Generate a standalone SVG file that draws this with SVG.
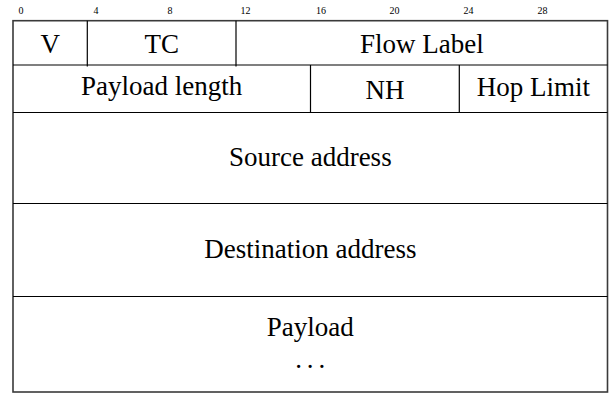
<svg xmlns="http://www.w3.org/2000/svg" width="610" height="394" viewBox="0 0 610 394">
<style>
  .bits { font-family: 'Liberation Serif', 'Times New Roman', serif; font-size: 10px; fill: #000; text-anchor: middle; }
  .lbl { font-family: 'Liberation Serif', 'Times New Roman', serif; font-size: 27px; fill: #000; text-anchor: middle; }
  .dots { letter-spacing: -0.9px; }
  .ln { stroke: #000; stroke-width: 1.2; fill: none; }
  .frame { stroke: #3a3a3a; stroke-width: 1.6; fill: #fff; }
</style>
<rect width="610" height="394" fill="#fff"/>
<g id="bit-scale">
  <text class="bits" x="21" y="14">0</text>
  <text class="bits" x="96" y="14">4</text>
  <text class="bits" x="170" y="14">8</text>
  <text class="bits" x="245.5" y="14">12</text>
  <text class="bits" x="321" y="14">16</text>
  <text class="bits" x="394.5" y="14">20</text>
  <text class="bits" x="468.5" y="14">24</text>
  <text class="bits" x="542.5" y="14">28</text>
</g>
<g id="frame">
  <rect class="frame" x="13" y="20.7" width="594.5" height="371.3"/>
</g>
<g id="connectors">
  <line class="ln" x1="13" y1="65" x2="607.5" y2="65"/>
  <line class="ln" x1="13" y1="112.5" x2="607.5" y2="112.5"/>
  <line class="ln" x1="13" y1="203.5" x2="607.5" y2="203.5"/>
  <line class="ln" x1="13" y1="296.5" x2="607.5" y2="296.5"/>
  <line class="ln" x1="87.3" y1="20.7" x2="87.3" y2="66.5"/>
  <line class="ln" x1="236" y1="20.7" x2="236" y2="66.5"/>
  <line class="ln" x1="310.5" y1="65" x2="310.5" y2="112.5"/>
  <line class="ln" x1="459.3" y1="65" x2="459.3" y2="112.5"/>
</g>
<g id="field-version"><text class="lbl" x="50.2" y="52.5">V</text></g>
<g id="field-tc"><text class="lbl" x="161.7" y="52.5">TC</text></g>
<g id="field-flow-label"><text class="lbl" x="421.8" y="52.7">Flow Label</text></g>
<g id="field-payload-length"><text class="lbl" x="161.7" y="95">Payload length</text></g>
<g id="field-nh"><text class="lbl" x="384.9" y="99.3">NH</text></g>
<g id="field-hop-limit"><text class="lbl" x="533.4" y="96">Hop Limit</text></g>
<g id="field-source"><text class="lbl" x="310.3" y="166">Source address</text></g>
<g id="field-destination"><text class="lbl" x="310.3" y="258.3">Destination address</text></g>
<g id="field-payload">
  <text class="lbl" x="310.3" y="336">Payload</text>
  <text class="lbl dots" x="309.8" y="368">. . .</text>
</g>
</svg>
